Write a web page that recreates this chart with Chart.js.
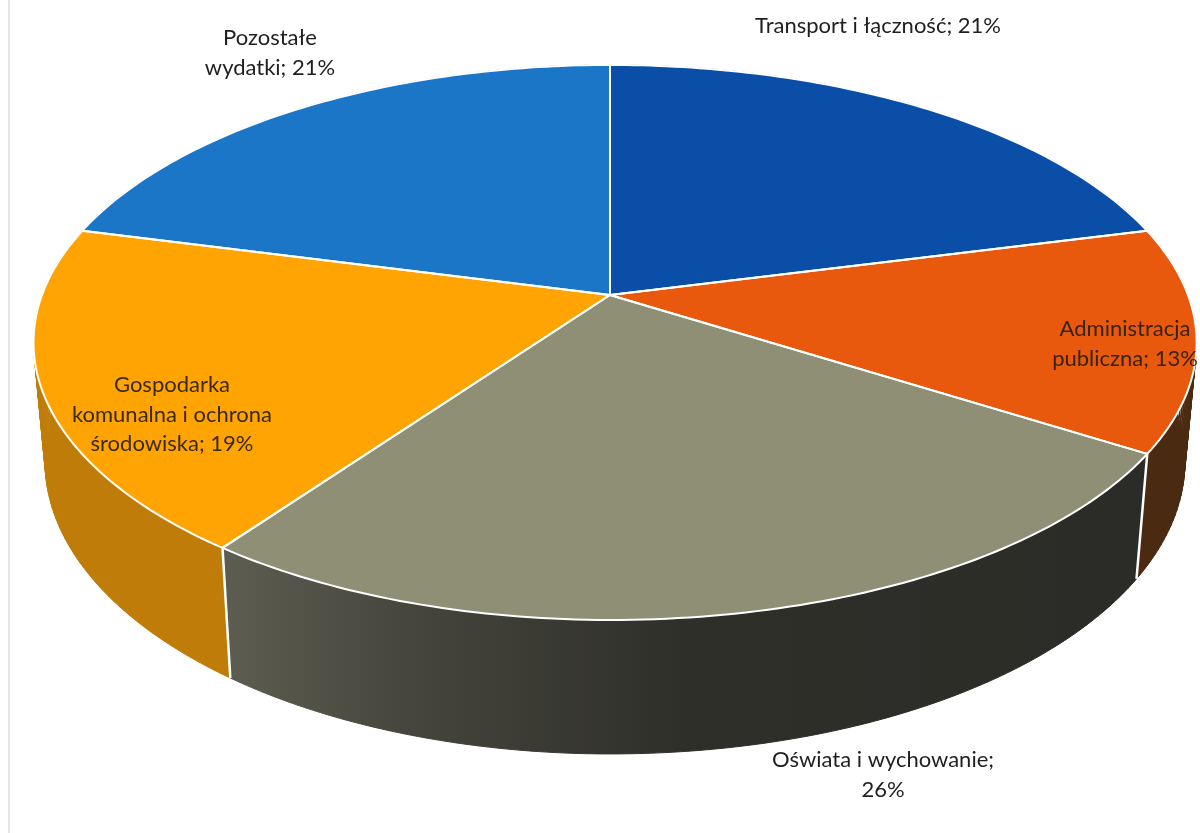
<!DOCTYPE html>
<html lang="pl">
<head>
<meta charset="utf-8">
<title>Wydatki</title>
<script src="https://cdn.jsdelivr.net/npm/chart.js@4"></script>
<style>
  html, body { margin: 0; padding: 0; background: #fff; }
  canvas { display: block; }
</style>
</head>
<body>
<canvas id="chart-pie" width="1200" height="833"></canvas>
<script>
const categories = ['Transport i łączność', 'Administracja publiczna', 'Oświata i wychowanie', 'Gospodarka komunalna i ochrona środowiska', 'Pozostałe wydatki'];
const shares = [21, 13, 26, 19, 21];
const labelLines = [
  ['Transport i łączność; 21%'],
  ['Administracja', 'publiczna; 13%'],
  ['Oświata i wychowanie;', '26%'],
  ['Gospodarka', 'komunalna i ochrona', 'środowiska; 19%'],
  ['Pozostałe', 'wydatki; 21%'],
];

const topColors = ['#0b4ea8', '#e8590e', '#8f8f76', '#ffa402', '#1c76c8'];
const wallColors = ['#0a3a7c', '#4a2a10', '#2e2f29', '#c07c08', '#14568f'];
const labelPlaces = [[878, 26], [1125, 329], [883, 760], [172, 385], [270, 38]];
const labelInk = ['#1f1f1f', '#3a2208', '#1f1f1f', '#3a2a0c', '#1f1f1f'];

// tilted disc seen in perspective: apex sits above the middle of the ellipse
const apexX = 610, apexY = 295, spreadRight = 578, spreadLeft = 568, spreadY = 269.4, tilt = 0.171;

function project(angle) {
  const u = Math.cos(angle), v = Math.sin(angle);
  const w = 1 - tilt * v;
  return [apexX + (u < 0 ? spreadLeft : spreadRight) * u / w, apexY + spreadY * v / w];
}
// same rim on the lower face of the disc
function lower(p) {
  return [apexX + (p[0] - apexX) * 0.98, p[1] * 1.054 + 100.5];
}
function rim(arc) {
  const pts = [];
  const n = Math.ceil((arc.endAngle - arc.startAngle) * 60);
  for (let i = 0; i <= n; i++) pts.push(project(arc.startAngle + (arc.endAngle - arc.startAngle) * i / n));
  return pts;
}
function trace(ctx, pts) {
  pts.forEach((p, i) => (i ? ctx.lineTo(p[0], p[1]) : ctx.moveTo(p[0], p[1])));
}

const discPlugin = {
  id: 'disc',
  beforeDraw(chart) {
    const ctx = chart.ctx;
    ctx.save();
    ctx.strokeStyle = '#e6e6e8';
    ctx.lineWidth = 2;
    ctx.beginPath();
    ctx.moveTo(9, 0);
    ctx.lineTo(9, 833);
    ctx.stroke();
    ctx.restore();
  },
  // the arcs keep their angles from Chart.js, only the drawing is replaced
  beforeDatasetDraw(chart) {
    const ctx = chart.ctx;
    const arcs = chart.getDatasetMeta(0).data;
    ctx.save();
    ctx.lineJoin = 'round';
    arcs.forEach((arc, i) => {
      let paint = wallColors[i];
      if (i === 2) {
        paint = ctx.createLinearGradient(230, 0, 1140, 0);
        paint.addColorStop(0, '#5c5c50');
        paint.addColorStop(0.2, '#45453c');
        paint.addColorStop(0.5, '#2e2f29');
        paint.addColorStop(1, '#2b2c27');
      }
      ctx.fillStyle = paint;
      ctx.strokeStyle = paint;
      ctx.lineWidth = 1;
      // one quad per rim step, so the wall also fills out to the tangent at the sides
      const pts = rim(arc);
      ctx.beginPath();
      for (let k = 0; k < pts.length - 1; k++) {
        trace(ctx, [pts[k], pts[k + 1], lower(pts[k + 1]), lower(pts[k])]);
        ctx.closePath();
      }
      ctx.fill('nonzero');
      ctx.stroke();
    });
    // white seams between the visible walls
    ctx.strokeStyle = '#fff';
    ctx.lineWidth = 2.5;
    [arcs[2].startAngle, arcs[2].endAngle].forEach((a) => {
      const p = project(a);
      ctx.beginPath();
      trace(ctx, [p, lower(p)]);
      ctx.stroke();
    });
    arcs.forEach((arc) => {
      ctx.beginPath();
      trace(ctx, [[apexX, apexY]].concat(rim(arc)));
      ctx.closePath();
      ctx.fillStyle = arc.options.backgroundColor;
      ctx.fill();
    });
    arcs.forEach((arc) => {
      ctx.beginPath();
      trace(ctx, [[apexX, apexY]].concat(rim(arc)));
      ctx.closePath();
      ctx.strokeStyle = '#fff';
      ctx.lineWidth = 2;
      ctx.stroke();
    });
    ctx.restore();
    return false;
  },
  afterDatasetsDraw(chart) {
    const ctx = chart.ctx;
    ctx.save();
    ctx.font = '22px Lato, "Open Sans", sans-serif';
    ctx.textAlign = 'center';
    ctx.textBaseline = 'middle';
    labelLines.forEach((lines, i) => {
      ctx.fillStyle = labelInk[i];
      lines.forEach((line, k) => ctx.fillText(line, labelPlaces[i][0], labelPlaces[i][1] + k * 29.5));
    });
    ctx.restore();
  },
};

new Chart(document.getElementById('chart-pie').getContext('2d'), {
  type: 'pie',
  data: {
    labels: categories,
    datasets: [{ data: shares, backgroundColor: topColors, borderWidth: 0 }],
  },
  options: {
    responsive: false,
    animation: false,
    plugins: { legend: { display: false }, tooltip: { enabled: false } },
  },
  plugins: [discPlugin],
});
</script>
</body>
</html>
